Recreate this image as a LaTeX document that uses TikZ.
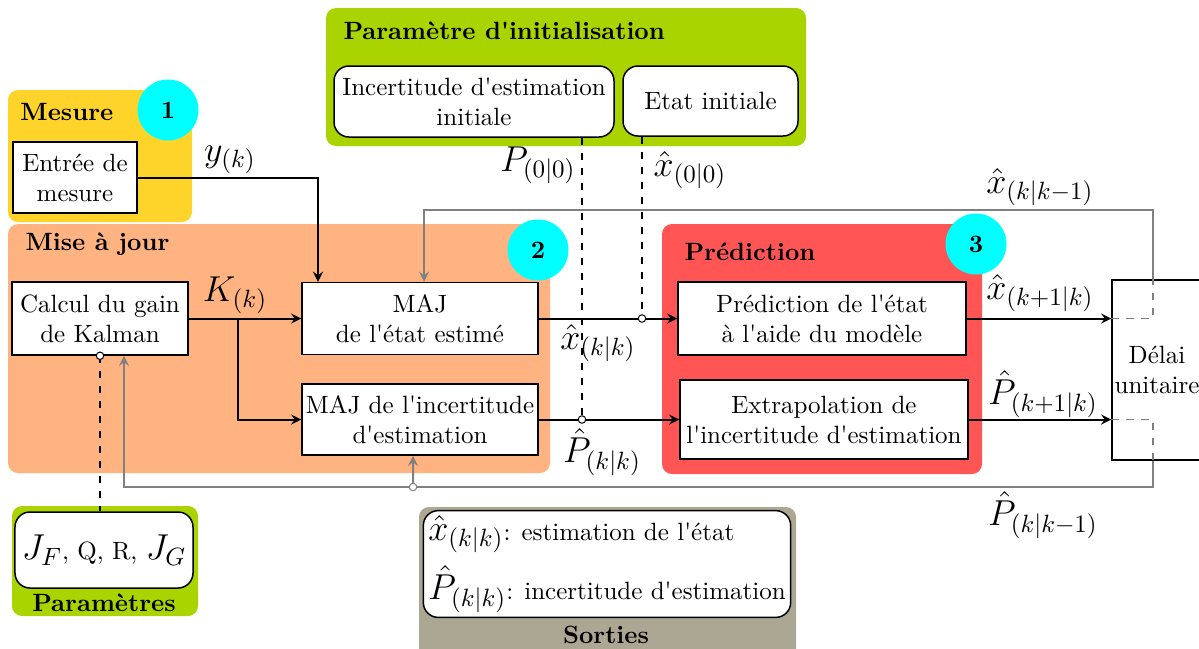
\documentclass[tikz,border=0pt]{standalone}
\usepackage{xcolor}
\usepackage{amsmath,amssymb}
\usepackage{tikz}
\usetikzlibrary{shapes.geometric, arrows, arrows.meta, positioning, calc}
\definecolor{mesurecol}{HTML}{FFD42A}
\definecolor{initcol}{HTML}{AAD400}
\definecolor{majcol}{HTML}{FFB380}
\definecolor{predcol}{HTML}{FF5555}
\definecolor{sortcol}{HTML}{ACA793}
\definecolor{badgecol}{HTML}{00FFFF}
\newcommand{\aps}{\textquotesingle}
\tikzstyle{block} = [rectangle,
inner sep=1pt,
align=center,
draw=black, semithick,
fill=white]
\tikzstyle{rblock} = [block, rounded corners=6pt]
\tikzstyle{group} = [rounded corners=4pt]
\tikzstyle{title} = [font=\bfseries, anchor=west, inner sep=0pt]
\tikzstyle{badge} = [circle, fill=badgecol, minimum size=24.4pt, font=\bfseries]
\tikzstyle{tap} = [circle, draw, fill=white, inner sep=0pt, minimum size=3pt]
\tikzstyle{lbl} = [font=\Large, inner sep=0pt]
\tikzstyle{arrow} = [thick,->,>=stealth]
\tikzstyle{feedback} = [thick,->,>=stealth, gray]
\tikzstyle{hidden} = [semithick, dashed, gray]

\begin{document}
\begin{tikzpicture}[x=0.4pt, y=-0.4pt]
            \useasboundingbox (0,0) rectangle (1199,648);
            % zones
            \fill[group, mesurecol] (8,90) rectangle (192,222);
            \fill[group, initcol] (326,8) rectangle (806,146);
            \fill[group, majcol] (8,224) rectangle (550,473);
            \fill[group, predcol] (662,224) rectangle (982,474);
            \fill[group, initcol] (12,506) rectangle (198,616);
            \fill[group, sortcol] (419,507) rectangle (796,660);

            \node (tmes) [title] at (20,112) {Mesure};
            \node (tinit) [title] at (343,31) {Paramètre d\aps initialisation};
            \node (tmaj) [title] at (25,244) {Mise à jour};
            \node (tpred) [title] at (684,252) {Prédiction};
            \node (tpar) [font=\bfseries] at (104,603) {Paramètres};
            \node (tsort) [font=\bfseries] at (606,635) {Sorties};

            \node (n1) [badge] at (168,110) {1};
            \node (n2) [badge] at (538,250) {2};
            \node (n3) [badge] at (976,244) {3};

            % blocs
            \node (entree) [block, minimum width=49.6pt, minimum height=28.4pt] at (75,177.5) {Entrée de\\mesure};
            \node (incert) [rblock, minimum width=112pt, minimum height=28.4pt] at (474,101.5) {Incertitude d\aps estimation\\initiale};
            \node (etat) [rblock, minimum width=70pt, minimum height=28pt] at (710.5,101) {Etat initiale};
            \node (calcul) [block, minimum width=70.4pt, minimum height=29.2pt] at (100,318.5) {Calcul du gain\\de Kalman};
            \node (majx) [block, minimum width=94.4pt, minimum height=28.8pt] at (420,318.5) {MAJ\\de l\aps état estimé};
            \node (majp) [block, minimum width=94.4pt, minimum height=28.4pt] at (420,419.5) {MAJ de l\aps incertitude\\d\aps estimation};
            \node (predx) [block, minimum width=115.2pt, minimum height=29.2pt] at (822,318.5) {Prédiction de l\aps état\\à l\aps aide du modèle};
            \node (predp) [block, minimum width=115.2pt, minimum height=31.6pt] at (824,419.5) {Extrapolation de\\l\aps incertitude d\aps estimation};
            \node (delai) [block, minimum width=36pt, minimum height=72pt] at (1157,370) {Délai\\unitaire};
            \node (params) [rblock, minimum width=71.2pt, minimum height=30.4pt] at (104,550) {{\Large $J_F$}, Q, R, {\Large $J_G$}};
            \node (sortbox) [rblock, align=left, inner sep=2pt, minimum width=146.4pt, minimum height=40.8pt] at (607,564)
                {{\Large $\hat{x}_{(k|k)}$}: estimation de l\aps état\\[4pt]{\Large $\hat{P}_{(k|k)}$}: incertitude d\aps estimation};

            % liaisons
            \coordinate (kb) at (238,318.5);
            \coordinate (tapx) at (642,318.5);
            \coordinate (tapp) at (582,419.5);
            \coordinate (fb) at (1153,0);
            \coordinate (fbtop) at (1153,210);
            \coordinate (fbbot) at (1153,487);
            \coordinate (tapq) at (413,487);

            \draw [arrow] (entree.east) -| ([xshift=-40.8pt]majx.north);
            \draw [arrow] (calcul.east) -- (majx.west);
            \draw [arrow] (kb) |- (majp.west);
            \draw [arrow] (majx.east) -- (predx.west);
            \draw [arrow] (majp.east) -- (predp.west);
            \draw [arrow] (predx.east) -- (predx.east -| delai.west);
            \draw [arrow] (predp.east) -- (predp.east -| delai.west);
            \draw [semithick, dashed] (tapx |- etat.south) -- (tapx);
            \draw [semithick, dashed] (tapp |- incert.south) -- (tapp);
            \draw [semithick, dashed] (calcul.south) -- (calcul.south |- params.north);

            \draw [hidden] (predx.east -| delai.west) -- (fb |- predx.east) -- (fb |- delai.north);
            \draw [feedback] (fb |- delai.north) -- (fbtop) -| ([xshift=1.6pt]majx.north);
            \draw [hidden] (predp.east -| delai.west) -- (fb |- predp.east) -- (fb |- delai.south);
            \draw [feedback] (fb |- delai.south) -- (fbbot) -| ([xshift=9.6pt]calcul.south);
            \draw [feedback] (tapq) -- ([xshift=-2.8pt]majp.south);

            \node [tap] at (tapx) {};
            \node [tap] at (tapp) {};
            \node [tap] at (calcul.south) {};
            \node [tap, draw=gray] at (tapq) {};

            % grandeurs
            \node (ly) [lbl] at (230,160) {$y_{(k)}$};
            \node (lk) [lbl] at (235,295) {$K_{(k)}$};
            \node (lp0) [lbl] at (538,165) {$P_{(0|0)}$};
            \node (lx0) [lbl] at (690,170) {$\hat{x}_{(0|0)}$};
            \node (lxk) [lbl] at (598,343) {$\hat{x}_{(k|k)}$};
            \node (lpk) [lbl] at (602,452) {$\hat{P}_{(k|k)}$};
            \node (lxkm) [lbl] at (1040,187) {$\hat{x}_{(k|k-1)}$};
            \node (lxp) [lbl] at (1040,293) {$\hat{x}_{(k+1|k)}$};
            \node (lpp) [lbl] at (1043,394) {$\hat{P}_{(k+1|k)}$};
            \node (lpkm) [lbl] at (1043,515) {$\hat{P}_{(k|k-1)}$};
        \end{tikzpicture}
\end{document}
